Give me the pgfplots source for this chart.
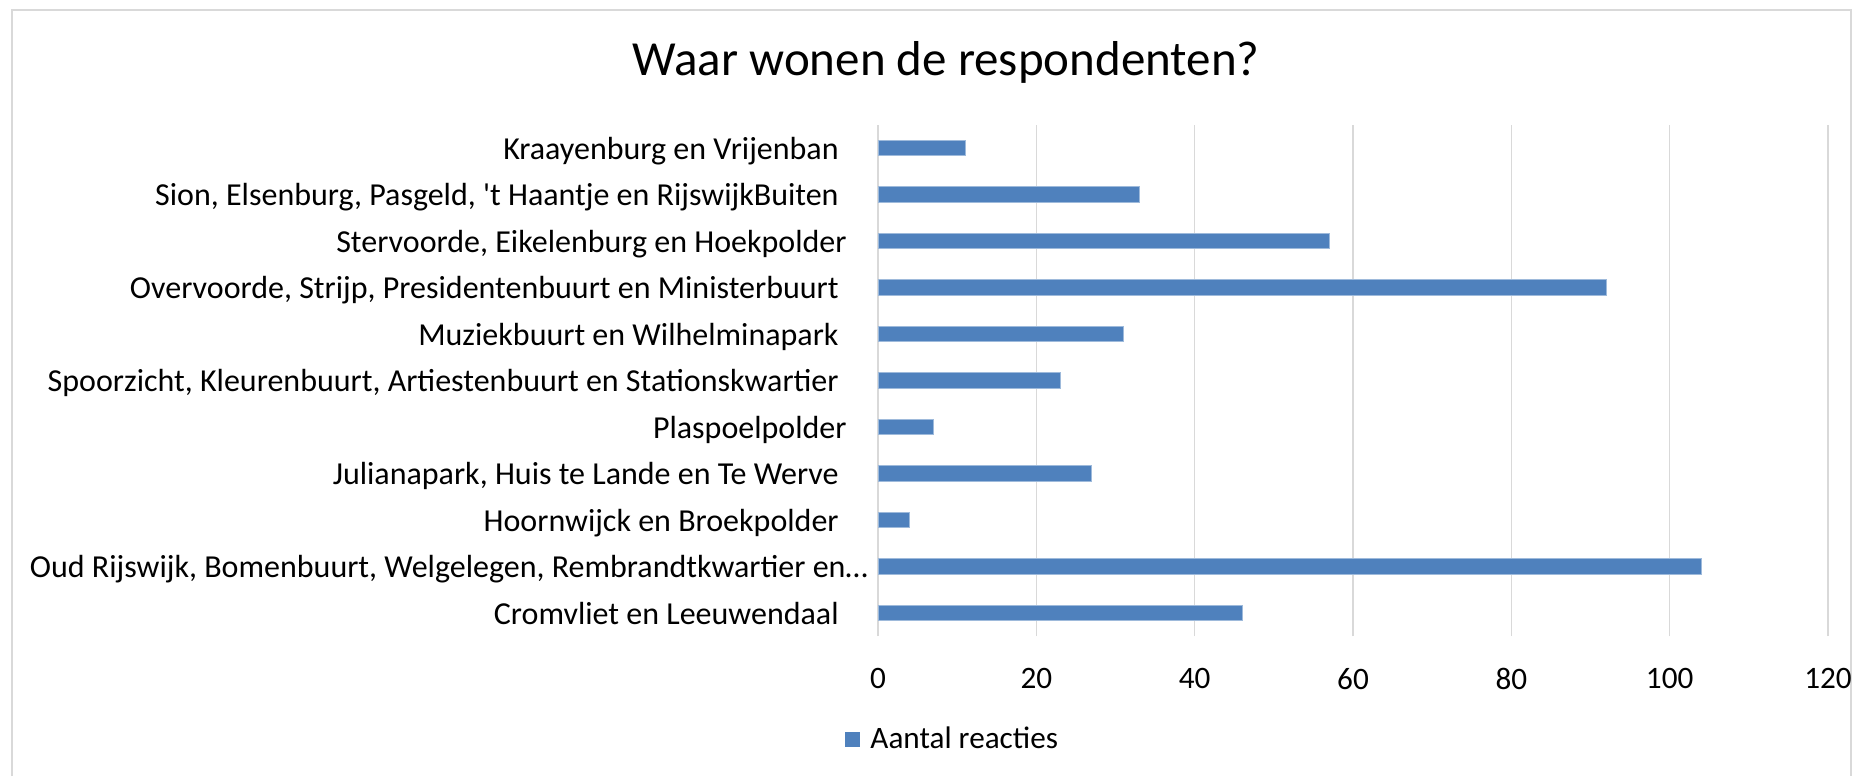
\documentclass[border=0pt]{standalone}
\usepackage{fontspec}
\setmainfont{Carlito}
\usepackage{pgfplots}
\pgfplotsset{compat=1.18}
\definecolor{barblue}{HTML}{4F81BD}
\definecolor{gridgray}{HTML}{D9D9D9}
\begin{document}
\begin{tikzpicture}
\path[use as bounding box] (0,0) rectangle (933pt,388pt);
\draw[gridgray, line width=0.8pt] (6pt,0) -- (6pt,383pt) -- (925.5pt,383pt) -- (925.5pt,0);
\node[font=\fontsize{24.5}{29}\selectfont, anchor=center, inner sep=0pt] at (473pt,357pt) {Waar wonen de respondenten?};
\begin{axis}[
  at={(439pt,69.9pt)}, anchor=south west,
  scale only axis, width=475pt, height=255.75pt,
  xbar, bar width=7.7pt,
  xmin=0, xmax=120, ymin=-0.5, ymax=10.5,
  xtick={0,20,...,120},
  ytick={0,...,10},
  yticklabels={
    {Cromvliet en Leeuwendaal\kern14.5pt},
    {Oud Rijswijk, Bomenbuurt, Welgelegen, Rembrandtkwartier en…},
    {Hoornwijck en Broekpolder\kern14.5pt},
    {Julianapark, Huis te Lande en Te Werve\kern14.5pt},
    {Plaspoelpolder\kern10.5pt},
    {Spoorzicht, Kleurenbuurt, Artiestenbuurt en Stationskwartier\kern14.5pt},
    {Muziekbuurt en Wilhelminapark\kern14.5pt},
    {Overvoorde, Strijp, Presidentenbuurt en Ministerbuurt\kern14.5pt},
    {Stervoorde, Eikelenburg en Hoekpolder\kern10.5pt},
    {Sion, Elsenburg, Pasgeld, \textquotesingle t Haantje en RijswijkBuiten\kern14.5pt},
    {Kraayenburg en Vrijenban\kern14.5pt}
  },
  axis line style={draw=none},
  major tick length=0pt,
  xmajorgrids, grid style={gridgray, line width=0.8pt},
  font=\fontsize{15.6}{18}\selectfont,
  ticklabel style={font=\fontsize{15.6}{18}\selectfont},
  /pgf/number format/assume math mode=true,
  xticklabel style={anchor=north, inner sep=0pt, yshift=-15.9pt},
  yticklabel style={font=\fontsize{16}{18}\selectfont, anchor=base east, inner sep=0pt, xshift=-5pt, yshift=-5.6pt},
  legend style={draw=none, fill=none, inner sep=0pt, at={(-0.0347,-0.201)}, anchor=west,
    nodes={inner sep=0pt}, column sep=5pt, font=\fontsize{15.6}{18}\selectfont},
  legend image code/.code={\fill[barblue] (0pt,-3.5pt) rectangle (7pt,3.5pt);},
]
\addplot[fill=barblue, draw=barblue!55!white, line width=0.5pt] coordinates {
  (46,0) (104,1) (4,2) (27,3) (7,4) (23,5) (31,6) (92,7) (57,8) (33,9) (11,10)
};
\addlegendentry{Aantal reacties}
\end{axis}
\end{tikzpicture}
\end{document}
